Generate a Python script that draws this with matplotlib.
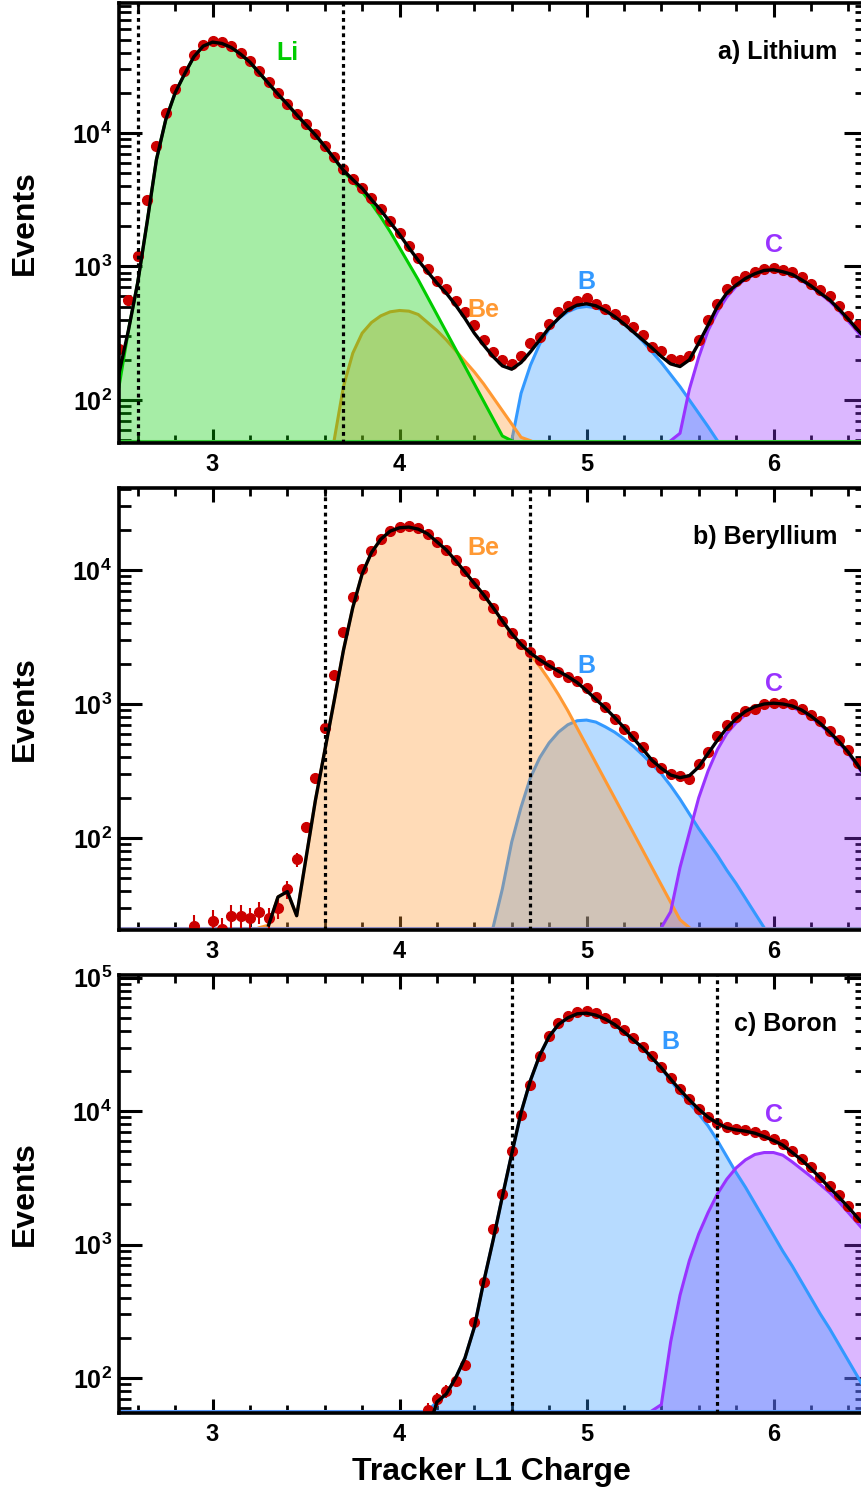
import numpy as np
import matplotlib
matplotlib.use('Agg')
import matplotlib.pyplot as plt
from matplotlib.ticker import (LogLocator, FixedLocator, MultipleLocator,
                               FuncFormatter, NullFormatter)

plt.rcParams['font.family'] = ['Liberation Sans', 'DejaVu Sans']
plt.rcParams['font.weight'] = 'bold'
plt.rcParams['mathtext.fontset'] = 'custom'
plt.rcParams['mathtext.rm'] = 'Liberation Sans:bold'
plt.rcParams['mathtext.it'] = 'Liberation Sans:bold'
plt.rcParams['mathtext.bf'] = 'Liberation Sans:bold'

# bin centres of the Tracker L1 charge histogram
X = np.round(np.arange(2.5, 6.501, 0.05), 2)
NAN = np.nan

# ---------------------------------------------------------------- panel a
# all values are log10(events); 0 = below the plot floor
data_a = [2.38, 2.75, 3.08, 3.50, 3.90, 4.15, 4.33, 4.46, 4.58, 4.66,
          4.69, 4.68, 4.65, 4.60, 4.54, 4.46, 4.38, 4.30, 4.22, 4.14,
          4.065, 3.99, 3.905, 3.82, 3.73, 3.655, 3.59, 3.51, 3.43, 3.34,
          3.25, 3.15, 3.06, 2.98, 2.89, 2.83, 2.74, 2.66, 2.56, 2.45,
          2.36, 2.30, 2.27, 2.33, 2.43, 2.47, 2.57, 2.66, 2.70, 2.74,
          2.76, 2.72, 2.68, 2.64, 2.60, 2.55, 2.49, 2.40, 2.37, 2.31,
          2.30, 2.33, 2.45, 2.60, 2.72, 2.83, 2.89, 2.93, 2.96, 2.98,
          2.99, 2.975, 2.96, 2.92, 2.87, 2.82, 2.78, 2.70, 2.63, 2.56, 2.48]
fit_a = [2.20, 2.52, 2.88, 3.33, 3.80, 4.10, 4.30, 4.44, 4.57, 4.65,
         4.68, 4.67, 4.64, 4.59, 4.53, 4.45, 4.37, 4.29, 4.215, 4.135,
         4.06, 3.985, 3.90, 3.81, 3.72, 3.65, 3.585, 3.50, 3.42, 3.33,
         3.24, 3.14, 3.045, 2.96, 2.875, 2.80, 2.71, 2.61, 2.50, 2.41,
         2.325, 2.255, 2.23, 2.28, 2.36, 2.45, 2.54, 2.61, 2.675, 2.71,
         2.72, 2.705, 2.67, 2.625, 2.57, 2.51, 2.45, 2.39, 2.325, 2.27,
         2.25, 2.30, 2.425, 2.56, 2.70, 2.80, 2.86, 2.91, 2.945, 2.97,
         2.975, 2.96, 2.94, 2.90, 2.855, 2.80, 2.75, 2.68, 2.605, 2.525, 2.45]
li_a = [2.10, 2.52, 2.88, 3.33, 3.80, 4.10, 4.30, 4.44, 4.57, 4.65,
        4.68, 4.67, 4.64, 4.59, 4.53, 4.45, 4.37, 4.29, 4.215, 4.135,
        4.06, 3.985, 3.90, 3.81, 3.71, 3.64, 3.56, 3.47, 3.37, 3.26,
        3.14, 3.02, 2.90, 2.77, 2.64, 2.51, 2.38, 2.25, 2.12, 1.99,
        1.86, 1.73, 1.60] + [0] * 38
be_a = [0] * 22 + [1.0, 1.6, 2.1, 2.35, 2.50, 2.58, 2.63, 2.66,
                   2.67, 2.665, 2.64, 2.58, 2.52, 2.45, 2.37, 2.29, 2.21, 2.12,
                   2.02, 1.92, 1.82, 1.72, 1.62, 1.52] + [0] * 35
b_a = [0] * 42 + [1.6, 2.05, 2.26, 2.42, 2.53, 2.61, 2.66, 2.69,
                  2.70, 2.69, 2.665, 2.625, 2.57, 2.51, 2.44, 2.36, 2.28, 2.19,
                  2.10, 2.00, 1.90, 1.80, 1.69, 1.58] + [0] * 15
c_a = [0] * 59 + [1.3,
                  1.75, 2.08, 2.32, 2.52, 2.66, 2.77, 2.85, 2.905, 2.94, 2.965,
                  2.975, 2.96, 2.935, 2.895, 2.85, 2.795, 2.74, 2.67, 2.59, 2.51, 2.43]

# ---------------------------------------------------------------- panel b
data_b = [NAN] * 8 + [1.34, NAN,
          1.38, 1.32, 1.42, 1.42, 1.40, 1.45, 1.40, 1.48, 1.62, 1.84,
          2.08, 2.45, 2.82, 3.22, 3.54, 3.80, 4.01, 4.14, 4.23, 4.29,
          4.32, 4.325, 4.31, 4.27, 4.21, 4.15, 4.075, 3.99, 3.90, 3.81,
          3.72, 3.62, 3.53, 3.445, 3.39, 3.33, 3.29, 3.24, 3.20, 3.17,
          3.12, 3.05, 2.98, 2.89, 2.81, 2.76, 2.68, 2.57, 2.52, 2.48,
          2.46, 2.44, 2.55, 2.64, 2.76, 2.84, 2.90, 2.95, 2.96, 3.00,
          3.01, 3.01, 3.00, 2.96, 2.92, 2.87, 2.80, 2.73, 2.66, 2.56, 2.47]
fit_b = [NAN] * 16 + [1.35, 1.56, 1.60, 1.42,
         1.85, 2.28, 2.65, 3.02, 3.40, 3.72, 3.97, 4.13, 4.23, 4.29,
         4.315, 4.32, 4.305, 4.27, 4.21, 4.15, 4.07, 3.985, 3.90, 3.815,
         3.72, 3.62, 3.525, 3.445, 3.38, 3.33, 3.285, 3.245, 3.205, 3.16,
         3.10, 3.035, 2.97, 2.90, 2.825, 2.745, 2.665, 2.58, 2.52, 2.47,
         2.45, 2.465, 2.53, 2.63, 2.73, 2.82, 2.89, 2.945, 2.98, 3.00,
         3.006, 3.00, 2.985, 2.955, 2.91, 2.855, 2.79, 2.72, 2.64, 2.545, 2.44]
be_b = [0] * 16 + [1.35, 1.56, 1.60, 1.42,
        1.85, 2.28, 2.65, 3.02, 3.40, 3.72, 3.97, 4.13, 4.23, 4.29,
        4.315, 4.32, 4.305, 4.27, 4.21, 4.15, 4.07, 3.985, 3.90, 3.815,
        3.72, 3.62, 3.52, 3.44, 3.37, 3.28, 3.18, 3.07, 2.95, 2.82,
        2.69, 2.56, 2.43, 2.30, 2.17, 2.04, 1.91, 1.78, 1.65, 1.52,
        1.39, 1.26] + [0] * 19
b_b = [0] * 39 + [1.0,
                  1.30, 1.62, 1.97, 2.23, 2.45, 2.60, 2.71, 2.79, 2.845, 2.875,
                  2.88, 2.865, 2.83, 2.79, 2.74, 2.685, 2.62, 2.55, 2.48, 2.39,
                  2.29, 2.18, 2.07, 1.97, 1.87, 1.76, 1.66, 1.55, 1.44, 1.33,
                  1.2] + [0] * 10
c_b = [0] * 58 + [1.0, 1.45,
                  1.78, 2.04, 2.30, 2.50, 2.66, 2.78, 2.86, 2.92, 2.96, 2.985,
                  2.995, 2.99, 2.975, 2.945, 2.90, 2.845, 2.78, 2.71, 2.63, 2.535, 2.43]

# ---------------------------------------------------------------- panel c
data_c = [NAN] * 33 + [1.76, 1.84, 1.90, 1.98, 2.10, 2.42, 2.72,
          3.12, 3.38, 3.70, 3.97, 4.20, 4.41, 4.56, 4.66, 4.715, 4.745,
          4.75, 4.735, 4.70, 4.66, 4.605, 4.545, 4.48, 4.41, 4.33, 4.25,
          4.165, 4.09, 4.02, 3.96, 3.915, 3.885, 3.87, 3.86, 3.845, 3.82,
          3.79, 3.755, 3.70, 3.645, 3.58, 3.51, 3.44, 3.37, 3.29, 3.21, 3.13]
fit_c = [NAN] * 33 + [1.6, 1.82, 1.88, 2.0, 2.15, 2.38, 2.72,
         3.03, 3.36, 3.68, 3.99, 4.23, 4.42, 4.56, 4.65, 4.70, 4.73,
         4.735, 4.72, 4.69, 4.65, 4.595, 4.535, 4.475, 4.40, 4.325, 4.24,
         4.16, 4.085, 4.015, 3.955, 3.91, 3.875, 3.86, 3.85, 3.835, 3.81,
         3.78, 3.745, 3.69, 3.635, 3.57, 3.50, 3.425, 3.355, 3.28, 3.20, 3.12]
b_c = [0] * 33 + [1.74, 1.82, 1.88, 2.0, 2.15, 2.38, 2.72,
       3.03, 3.36, 3.68, 3.99, 4.23, 4.42, 4.56, 4.65, 4.70, 4.73,
       4.735, 4.72, 4.69, 4.65, 4.595, 4.535, 4.475, 4.40, 4.32, 4.23,
       4.14, 4.06, 3.98, 3.89, 3.78, 3.66, 3.54, 3.43, 3.31, 3.19,
       3.07, 2.95, 2.84, 2.72, 2.60, 2.48, 2.37, 2.25, 2.13, 2.01, 1.89]
c_c = [0] * 57 + [1.2, 1.8, 2.27,
                  2.62, 2.88, 3.08, 3.24, 3.38, 3.49, 3.575, 3.635, 3.675, 3.69,
                  3.69, 3.67, 3.62, 3.565, 3.51, 3.45, 3.39, 3.32, 3.24, 3.16, 3.08]

# selection cuts (dotted lines)
cuts_a = [2.6, 3.7]
cuts_b = [3.6, 4.7]
cuts_c = [4.6, 5.7]

C_LI = '#00CC00'
C_BE = '#FF9933'
C_B = '#3399FF'
C_C = '#9933FF'
C_DATA = '#CC0000'


def template(ax, vals, color, floor, part):
    """part = 'fill', 'line' or 'both' (drawing order sets the overlap look)"""
    y = np.maximum(10.0 ** np.asarray(vals, float), floor)
    if part in ('fill', 'both'):
        ax.fill_between(X, floor, y, color=color, alpha=0.35, lw=0, zorder=2)
    if part in ('line', 'both'):
        above = y > floor
        keep = above.copy()
        keep[1:] |= above[:-1]
        keep[:-1] |= above[1:]
        ax.plot(X, np.where(keep, y, np.nan), color=color, lw=2.2, zorder=2)


def setup(ax, ylo, yhi):
    ax.set_xlim(2.5, 6.5)
    ax.set_yscale('log')
    ax.set_ylim(ylo, yhi)
    ax.xaxis.set_major_locator(FixedLocator([3, 4, 5, 6]))
    ax.xaxis.set_minor_locator(MultipleLocator(0.2))
    ax.yaxis.set_major_locator(LogLocator(10, numticks=10))
    ax.yaxis.set_minor_locator(LogLocator(10, subs=np.arange(2, 10), numticks=30))
    ax.yaxis.set_minor_formatter(NullFormatter())
    ax.yaxis.set_major_formatter(
        FuncFormatter(lambda v, p: r'$10^{%d}$' % round(np.log10(v))))
    ax.tick_params(axis='x', which='major', direction='in', top=True,
                   bottom=True, length=10, width=2.2, labelsize=17, pad=7)
    ax.tick_params(axis='x', which='minor', direction='in', top=True,
                   bottom=True, length=5.5, width=2.0)
    ax.tick_params(axis='y', which='major', direction='in', left=True,
                   right=True, length=16.5, width=2.2, labelsize=18, pad=5)
    ax.tick_params(axis='y', which='minor', direction='in', left=True,
                   right=True, length=8.5, width=2.0)
    for s in ax.spines.values():
        s.set_linewidth(2.6)
        s.set_zorder(10)
    for lab in ax.get_xticklabels():
        lab.set_fontweight('bold')


def panel(ax, ylo, yhi, order, floor_color, data, fit, cuts, title, labels):
    setup(ax, ylo, yhi)
    floor = ylo * 1.04
    for vals, color, part in order:
        template(ax, vals, color, floor, part)
    ax.axhline(floor, color=floor_color, lw=2.2, zorder=3)
    n = 10.0 ** np.asarray(data, float)
    ax.errorbar(X, n, yerr=np.sqrt(n), fmt='o', ms=7, color=C_DATA,
                mec=C_DATA, elinewidth=1.5, capsize=0, zorder=4)
    ax.plot(X, 10.0 ** np.asarray(fit, float), color='k', lw=2.4, zorder=5)
    for c in cuts:
        ax.axvline(c, color='k', ls=(0, (1.2, 1.2)), lw=2.3, zorder=6)
    ax.text(0.96, 0.889, title, transform=ax.transAxes, ha='right',
            va='center', fontsize=18, fontweight='bold')
    for txt, x, y, color in labels:
        ax.text(x, y, txt, color=color, ha='center', va='center',
                fontsize=18, fontweight='bold', zorder=7)


fig = plt.figure(figsize=(8.62, 14.91), dpi=100)
ax_a = fig.add_axes([0.1381, 0.7029, 0.8677, 0.2951])
ax_b = fig.add_axes([0.1381, 0.3763, 0.8677, 0.2964])
ax_c = fig.add_axes([0.1381, 0.0523, 0.8677, 0.2938])

panel(ax_a, 47.6, 9.4e4,
      [(c_a, C_C, 'fill'), (b_a, C_B, 'both'), (be_a, C_BE, 'both'),
       (li_a, C_LI, 'both'), (c_a, C_C, 'line')], '#33CC33',
      data_a, fit_a, cuts_a, 'a) Lithium',
      [('Li', 3.40, 4.0e4, C_LI), ('Be', 4.45, 472, C_BE),
       ('B', 5.0, 766, C_B), ('C', 6.0, 1450, C_C)])
panel(ax_b, 20.6, 4.09e4,
      [(c_b, C_C, 'fill'), (b_b, C_B, 'both'), (be_b, C_BE, 'both'),
       (c_b, C_C, 'line')], '#8E8CC0',
      data_b, fit_b, cuts_b, 'b) Beryllium',
      [('Be', 4.45, 1.46e4, C_BE), ('B', 5.0, 1920, C_B),
       ('C', 6.0, 1410, C_C)])
panel(ax_c, 54.6, 1.05e5,
      [(c_c, C_C, 'fill'), (b_c, C_B, 'both'), (c_c, C_C, 'line')],
      '#5A9CFF',
      data_c, fit_c, cuts_c, 'c) Boron',
      [('B', 5.45, 3.3e4, C_B), ('C', 6.0, 9400, C_C)])

for ax in (ax_a, ax_b, ax_c):
    mid = ax.get_position()
    fig.text(0.029, (mid.y0 + mid.y1) / 2, 'Events', rotation=90,
             ha='center', va='center', fontsize=23, fontweight='bold')
fig.text(0.5696, 0.0127, 'Tracker L1 Charge', ha='center', va='center',
         fontsize=23, fontweight='bold')

fig.savefig('out.png', dpi=100)
